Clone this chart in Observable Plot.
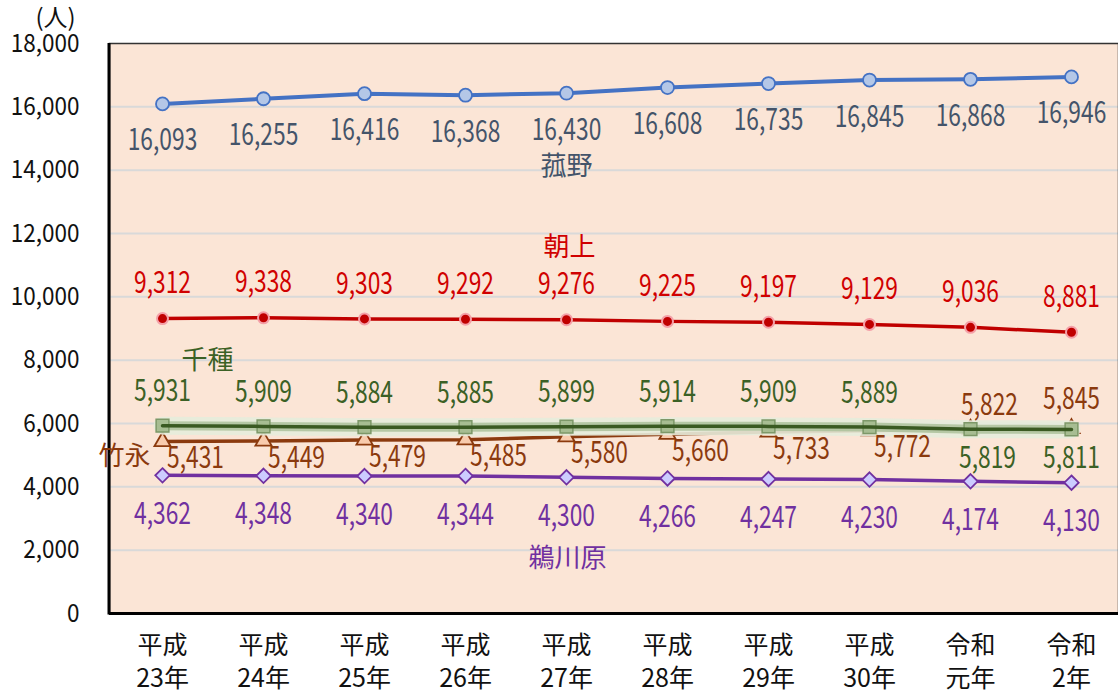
<!DOCTYPE html>
<html><head><meta charset="utf-8">
<script src="https://cdn.jsdelivr.net/npm/d3@7"></script>
<script src="https://cdn.jsdelivr.net/npm/@observablehq/plot@0.6"></script>
<style>body{margin:0;background:#fff;overflow:hidden}</style>
</head><body><div id="chart"></div>
<script>
const years = ["平成23年","平成24年","平成25年","平成26年","平成27年","平成28年","平成29年","平成30年","令和元年","令和2年"];
const komono   = [16093,16255,16416,16368,16430,16608,16735,16845,16868,16946];
const asake    = [9312,9338,9303,9292,9276,9225,9197,9129,9036,8881];
const chigusa  = [5931,5909,5884,5885,5899,5914,5909,5889,5819,5811];
const takenaga = [5431,5449,5479,5485,5580,5660,5733,5772,5822,5845];
const ukawara  = [4362,4348,4340,4344,4300,4266,4247,4230,4174,4130];
const yTicks = [0,2000,4000,6000,8000,10000,12000,14000,16000,18000];
const seriesNames = ["菰野","朝上","千種","竹永","鵜川原"];

const FONT = "'Noto Sans CJK JP', 'Noto Sans', sans-serif";
const rows = (vals) => years.map((y, i) => ({year: y, value: vals[i], i}));
const K = rows(komono), A = rows(asake), C = rows(chigusa), T = rows(takenaga), U = rows(ukawara);
const fmt = d3.format(",");

const leftLine = (index, scales, values, dims) => {
  const l = document.createElementNS("http://www.w3.org/2000/svg", "line");
  l.setAttribute("x1", dims.marginLeft); l.setAttribute("x2", dims.marginLeft);
  l.setAttribute("y1", dims.marginTop); l.setAttribute("y2", dims.height - dims.marginBottom + 1.5);
  l.setAttribute("stroke", "black"); l.setAttribute("stroke-width", 3);
  return l;
};

const lbl = (data, color, opts) => Plot.text(data, {x: "year", y: "value", text: d => fmt(d.value), fill: color, fontSize: 30, lineAnchor: "middle", ...opts});
const nameAt = (data, idx, name, color, dx, dy) => Plot.text([data[idx]], {x: "year", y: "value", text: () => name, fill: color, fontSize: 26, lineAnchor: "middle", dx, dy});

const chart = Plot.plot({
  width: 1118, height: 697,
  marginTop: 43, marginBottom: 84, marginLeft: 109, marginRight: 0,
  style: {fontFamily: FONT, background: "#fff", overflow: "visible"},
  x: {type: "point", domain: years, range: [161, 1071], padding: 0, label: null},
  y: {domain: [0, 18000], label: null},
  marks: [
    Plot.frame({fill: "#FBE5D6"}),
    Plot.ruleY(yTicks.slice(1, -1), {stroke: "#d9d9d9", strokeWidth: 2}),
    Plot.frame({stroke: "#333", strokeWidth: 1.5}),
    Plot.ruleY([0], {stroke: "black", strokeWidth: 3}),
    leftLine,
    Plot.axisY({ticks: yTicks, tickSize: 0, tickPadding: 30, fontSize: 25, fill: "#111", tickFormat: fmt, label: null}),
    Plot.axisX({tickSize: 0, tickPadding: 17, fontSize: 25, lineHeight: 1.32, fill: "#111", label: null, tickFormat: d => d.slice(0, 2) + "\n" + d.slice(2)}),
    Plot.text(["(人)"], {frameAnchor: "top-left", dx: -54, dy: -25, fontSize: 24, textAnchor: "middle", lineAnchor: "middle", fill: "#111"}),
    // 菰野
    Plot.line(K, {x: "year", y: "value", stroke: "#4472C4", strokeWidth: 4}),
    Plot.dot(K, {x: "year", y: "value", r: 6.5, fill: "#B4C7E7", stroke: "#4472C4", strokeWidth: 1.8}),
    // 朝上
    Plot.line(A, {x: "year", y: "value", stroke: "#C00000", strokeWidth: 3.5}),
    Plot.dot(A, {x: "year", y: "value", r: 5.5, fill: "#C00000", stroke: "#F4A0A8", strokeWidth: 2}),
    // 鵜川原
    Plot.line(U, {x: "year", y: "value", stroke: "#7030A0", strokeWidth: 3.5}),
    Plot.dot(U, {x: "year", y: "value", symbol: "diamond2", r: 6.5, fill: "#CCCCFF", stroke: "#7030A0", strokeWidth: 1.8}),
    // 竹永
    Plot.line(T, {x: "year", y: "value", stroke: "#8B3A0E", strokeWidth: 3.5}),
    Plot.dot(T, {x: "year", y: "value", symbol: "triangle", r: 6, fill: "#F8CBAD", stroke: "#8B3A0E", strokeWidth: 1.8}),
    // 千種 (glow)
    Plot.line(C, {x: "year", y: "value", stroke: "#e6ecdc", strokeWidth: 18, strokeOpacity: 0.9}),
    Plot.line(C, {x: "year", y: "value", stroke: "#a9bf97", strokeWidth: 9, strokeOpacity: 0.8}),
    Plot.dot(C, {x: "year", y: "value", symbol: "square", r: 7.2, fill: "#a7bd92", stroke: "#7d9868", strokeWidth: 1.5}),
    Plot.line(C, {x: "year", y: "value", stroke: "#3a5a22", strokeWidth: 3.5}),
    // labels
    lbl(K, "#44546A", {dy: 37}),
    lbl(A, "#D00000", {dy: -35}),
    lbl(C.filter(d => d.i < 8), "#3B6125", {dy: -34}),
    lbl(C.filter(d => d.i === 8), "#3B6125", {dy: 29, dx: 17}),
    lbl(C.filter(d => d.i === 9), "#3B6125", {dy: 29}),
    lbl(T.filter(d => d.i < 8), "#8B3A0E", {dy: 17, dx: 33}),
    lbl(T.filter(d => d.i === 8), "#8B3A0E", {dy: -24, dx: 19}),
    lbl(T.filter(d => d.i === 9), "#8B3A0E", {dy: -29}),
    lbl(U, "#7030A0", {dy: 39}),
    nameAt(K, 4, seriesNames[0], "#44546A", 0, 73),
    nameAt(A, 4, seriesNames[1], "#D00000", 3, -72),
    nameAt(C, 0, seriesNames[2], "#3B6125", 45, -65),
    nameAt(T, 0, seriesNames[3], "#8B3A0E", -38, 15),
    nameAt(U, 4, seriesNames[4], "#7030A0", 1, 81)
  ]
});

// condense numeric text horizontally (reference uses a narrow digit face)
chart.querySelectorAll("text").forEach(t => {
  if (t.querySelector("tspan")) return;
  if (!/^[\d,]+$/.test(t.textContent.trim())) return;
  const g = t.closest("[font-size]");
  const fs = g ? parseFloat(g.getAttribute("font-size")) : 25;
  const s = fs >= 28 ? 0.76 : 0.9;
  ["x", "dx"].forEach(a => { if (t.hasAttribute(a)) t.setAttribute(a, parseFloat(t.getAttribute(a)) / s); });
  t.setAttribute("transform", (t.getAttribute("transform") || "") + ` scale(${s},1)`);
});
document.getElementById("chart").append(chart);
</script></body></html>
